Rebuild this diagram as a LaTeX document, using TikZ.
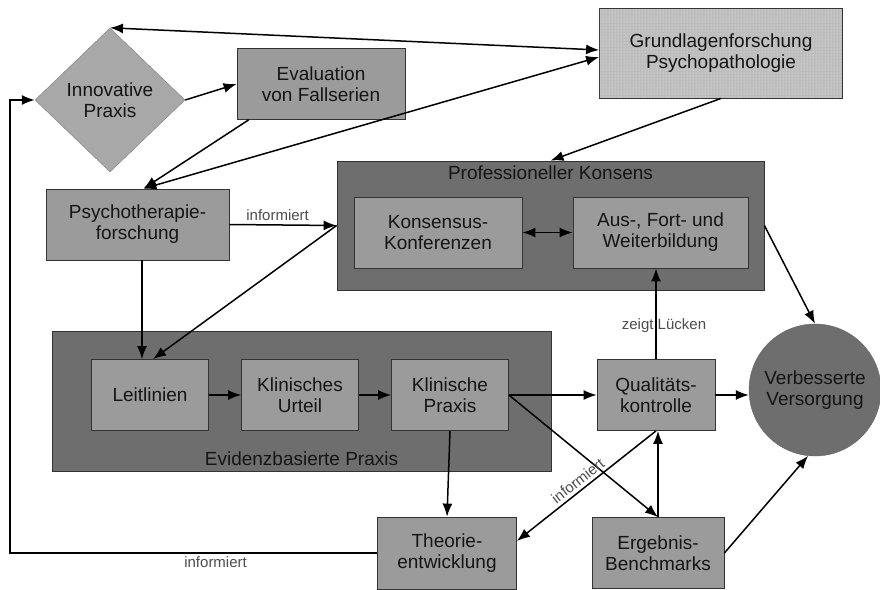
\documentclass[tikz,border=0pt]{standalone}
\usepackage{fontspec}
\setmainfont{Liberation Sans}
\usetikzlibrary{shapes,arrows,arrows.meta,patterns}
\definecolor{boxgray}{HTML}{9B9B9B}
\definecolor{groupgray}{HTML}{6E6E6E}
\definecolor{ideagray}{HTML}{A8A8A8}
\definecolor{basegray}{HTML}{BDBDBD}
\definecolor{textgray}{HTML}{151515}
\tikzstyle{block} = [rectangle, draw=black!80, line width=0.8pt, fill=boxgray, minimum height=71pt, align=center, text=textgray, font=\fontsize{19}{21}\selectfont, inner sep=2pt]
\tikzstyle{group} = [rectangle, draw=black!80, line width=0.8pt, fill=groupgray, text=textgray, font=\fontsize{19}{21}\selectfont]
\tikzstyle{idea} = [diamond, draw=black!50, fill=ideagray, minimum width=150pt, minimum height=144pt, inner sep=0pt, align=center, text=textgray, font=\fontsize{19}{21}\selectfont]
\tikzstyle{goal} = [circle, draw=black!60, fill=groupgray, minimum size=132pt, inner sep=0pt, align=center, text=textgray, font=\fontsize{19}{21}\selectfont]
\tikzstyle{note} = [font=\fontsize{15}{17}\selectfont, text=black!70]
\tikzstyle{arrow} = [line width=1.5pt, ->, >={Latex[length=13pt,width=10pt]}]

\begin{document}
\begin{tikzpicture}[x=1pt, y=-1pt, node distance=150pt]
\useasboundingbox (0,0) rectangle (880,589);

\node (innov) [idea] at (110,100) {Innovative\\ Praxis};
\node (eval) [block, minimum width=168pt] at (321,84) {Evaluation\\ von Fallserien};
\node (grund) [block, fill=basegray, minimum width=243pt, minimum height=90pt, postaction={pattern=dots, pattern color=white!85!gray}] at (721,53) {Grundlagenforschung\\ Psychopathologie};
\node (psycho) [block, minimum width=183pt] at (137.5,224.5) {Psychotherapie-\\ forschung};

% Professioneller Konsens
\node (konsens) [group, minimum width=427pt, minimum height=129pt, label={[group, draw=none, fill=none, anchor=north, inner sep=5pt]north:Professioneller Konsens}] at (550.5,225.5) {};
\node (konf) [block, minimum width=168pt] at (438,232.5) {Konsensus-\\ Konferenzen};
\node (aus) [block, minimum width=175pt] at (660.5,232.5) {Aus-, Fort- und\\ Weiterbildung};

% Evidenzbasierte Praxis
\node (evid) [group, minimum width=499pt, minimum height=140pt, label={[group, draw=none, fill=none, anchor=south, inner sep=5pt]south:Evidenzbasierte Praxis}] at (301.5,401) {};
\node (leit) [block, minimum width=117pt] at (150,395) {Leitlinien};
\node (urteil) [block, minimum width=117pt, right of=leit] {Klinisches\\ Urteil};
\node (praxis) [block, minimum width=117pt, right of=urteil] {Klinische\\ Praxis};

\node (qual) [block, minimum width=118pt] at (656,395) {Qualitäts-\\ kontrolle};
\node (verb) [goal] at (815,390) {Verbesserte\\ Versorgung};
\node (theorie) [block, minimum width=139pt, minimum height=72pt] at (447,553) {Theorie-\\ entwicklung};
\node (ergebnis) [block, minimum width=132pt] at (658,553) {Ergebnis-\\ Benchmarks};

\coordinate (back) at (10,553);

\draw [arrow, <->] (innov.north) -- ([yshift=3pt]grund.west);
\draw [arrow, <->] ([xshift=6pt]psycho.north) -- ([yshift=-4pt]grund.west);
\draw [arrow] ([xshift=12pt]eval.south west) -- ([xshift=6pt]psycho.north);
\draw [arrow] (innov.east) -- (eval.west);
\draw [arrow] (grund.south) -- (konsens.north);

\draw [arrow] (psycho.east) -- node [note, above, pos=0.45] {informiert} (konsens.west);
\draw [arrow] ([xshift=-8pt]leit.north |- psycho.south) -- ([xshift=-8pt]leit.north);
\draw [arrow] (konsens.west) -- ([xshift=3pt]leit.north);
\draw [arrow, <->] (konf) -- (aus);
\draw [arrow] (konsens.east) -- (verb.north);

\draw [arrow] (leit) -- (urteil);
\draw [arrow] (urteil) -- (praxis);
\draw [arrow] (praxis.east) -- (qual.west);
\draw [arrow] (praxis.east) -- (ergebnis.north);
\draw [arrow] (praxis.south) -- (theorie.north);

\draw [arrow] (qual.north) -- node [note, pos=0.37, xshift=8pt] {zeigt Lücken} (qual.north |- aus.south);
\draw [arrow] (qual.east) -- (qual.east -| verb.west);
\draw [arrow] (qual.south) -- node [note, sloped, above, pos=0.52] {informiert} ([yshift=12pt]theorie.east);
\draw [arrow] (ergebnis.north) -- (ergebnis.north |- qual.south);
\draw [arrow] (ergebnis.east) -- (verb.-96);

\draw [arrow] (theorie.west) -- node [note, below, pos=0.44] {informiert} (back) |- (innov.west);

\end{tikzpicture}
\end{document}
